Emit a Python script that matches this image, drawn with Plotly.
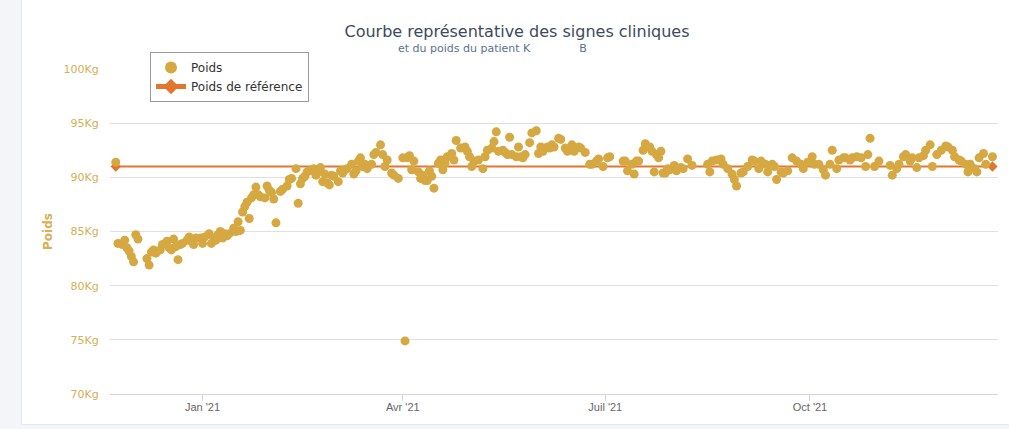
import plotly.graph_objects as go
import pandas as pd

# --- Data ---
dates = [
    "2020-11-23", "2020-11-24", "2020-11-26", "2020-11-27", "2020-11-28", "2020-11-29", "2020-11-30",
    "2020-12-01", "2020-12-02", "2020-12-03", "2020-12-07", "2020-12-08", "2020-12-09", "2020-12-10",
    "2020-12-11", "2020-12-13", "2020-12-14", "2020-12-16", "2020-12-17", "2020-12-18", "2020-12-19",
    "2020-12-20", "2020-12-21", "2020-12-22", "2020-12-23", "2020-12-25", "2020-12-26", "2020-12-27",
    "2020-12-28", "2020-12-29", "2020-12-31", "2021-01-01", "2021-01-02", "2021-01-04", "2021-01-05",
    "2021-01-06", "2021-01-07", "2021-01-08", "2021-01-09", "2021-01-10", "2021-01-11", "2021-01-12",
    "2021-01-13", "2021-01-15", "2021-01-16", "2021-01-17", "2021-01-18", "2021-01-19", "2021-01-20",
    "2021-01-21", "2021-01-22", "2021-01-23", "2021-01-24", "2021-01-25", "2021-01-26", "2021-01-27",
    "2021-01-29", "2021-01-30", "2021-01-31", "2021-02-01", "2021-02-02", "2021-02-03", "2021-02-05",
    "2021-02-06", "2021-02-08", "2021-02-09", "2021-02-10", "2021-02-12", "2021-02-13", "2021-02-14",
    "2021-02-15", "2021-02-16", "2021-02-17", "2021-02-18", "2021-02-20", "2021-02-21", "2021-02-22",
    "2021-02-23", "2021-02-24", "2021-02-25", "2021-02-26", "2021-02-27", "2021-02-28", "2021-03-01",
    "2021-03-03", "2021-03-04", "2021-03-05", "2021-03-06", "2021-03-07", "2021-03-09", "2021-03-10",
    "2021-03-11", "2021-03-12", "2021-03-13", "2021-03-14", "2021-03-15", "2021-03-16", "2021-03-18",
    "2021-03-19", "2021-03-20", "2021-03-22", "2021-03-23", "2021-03-24", "2021-03-25", "2021-03-27",
    "2021-03-28", "2021-03-30", "2021-04-01", "2021-04-02", "2021-04-03", "2021-04-04", "2021-04-05",
    "2021-04-06", "2021-04-08", "2021-04-09", "2021-04-10", "2021-04-11", "2021-04-12", "2021-04-13",
    "2021-04-14", "2021-04-15", "2021-04-17", "2021-04-18", "2021-04-19", "2021-04-20", "2021-04-21",
    "2021-04-23", "2021-04-24", "2021-04-25", "2021-04-27", "2021-04-29", "2021-04-30", "2021-05-01",
    "2021-05-02", "2021-05-03", "2021-05-05", "2021-05-07", "2021-05-08", "2021-05-09", "2021-05-11",
    "2021-05-12", "2021-05-13", "2021-05-14", "2021-05-16", "2021-05-17", "2021-05-18", "2021-05-19",
    "2021-05-20", "2021-05-22", "2021-05-23", "2021-05-24", "2021-05-25", "2021-05-26", "2021-05-28",
    "2021-05-29", "2021-05-31", "2021-06-01", "2021-06-02", "2021-06-03", "2021-06-05", "2021-06-06",
    "2021-06-07", "2021-06-08", "2021-06-10", "2021-06-11", "2021-06-13", "2021-06-14", "2021-06-16",
    "2021-06-17", "2021-06-19", "2021-06-20", "2021-06-22", "2021-06-24", "2021-06-25", "2021-06-27",
    "2021-06-28", "2021-06-30", "2021-07-02", "2021-07-03", "2021-07-09", "2021-07-10", "2021-07-11",
    "2021-07-13", "2021-07-14", "2021-07-15", "2021-07-16", "2021-07-18", "2021-07-19", "2021-07-21",
    "2021-07-22", "2021-07-23", "2021-07-24", "2021-07-25", "2021-07-26", "2021-07-27", "2021-07-28",
    "2021-07-29", "2021-07-30", "2021-08-01", "2021-08-02", "2021-08-04", "2021-08-05", "2021-08-07",
    "2021-08-09", "2021-08-16", "2021-08-17", "2021-08-18", "2021-08-20", "2021-08-22", "2021-08-23",
    "2021-08-25", "2021-08-27", "2021-08-28", "2021-08-29", "2021-08-31", "2021-09-01", "2021-09-03",
    "2021-09-05", "2021-09-06", "2021-09-08", "2021-09-09", "2021-09-11", "2021-09-12", "2021-09-14",
    "2021-09-15", "2021-09-16", "2021-09-18", "2021-09-19", "2021-09-21", "2021-09-23", "2021-09-25",
    "2021-09-27", "2021-09-28", "2021-09-30", "2021-10-02", "2021-10-03", "2021-10-05", "2021-10-07",
    "2021-10-08", "2021-10-10", "2021-10-11", "2021-10-13", "2021-10-14", "2021-10-16", "2021-10-17",
    "2021-10-19", "2021-10-20", "2021-10-22", "2021-10-24", "2021-10-26", "2021-10-27", "2021-10-28",
    "2021-10-30", "2021-11-01", "2021-11-06", "2021-11-07", "2021-11-09", "2021-11-10", "2021-11-12",
    "2021-11-13", "2021-11-15", "2021-11-16", "2021-11-18", "2021-11-19", "2021-11-21", "2021-11-22",
    "2021-11-24", "2021-11-25", "2021-11-27", "2021-11-29", "2021-12-01", "2021-12-02", "2021-12-04",
    "2021-12-05", "2021-12-07", "2021-12-08", "2021-12-10", "2021-12-11", "2021-12-12", "2021-12-14",
    "2021-12-15", "2021-12-16", "2021-12-18", "2021-12-19", "2021-12-22",
]

poids = [
    91.4, 83.9, 83.8, 84.2, 83.5, 83.2, 82.7,
    82.2, 84.7, 84.3, 82.5, 81.9, 83.1, 83.3,
    83.0, 83.3, 83.8, 84.1, 83.5, 83.3, 84.3,
    83.6, 82.4, 83.8, 83.9, 84.2, 84.5, 84.1,
    83.8, 84.4, 84.4, 83.9, 84.5, 84.8, 83.9,
    84.4, 84.2, 84.7, 85.0, 84.4, 84.8, 84.6,
    84.8, 85.3, 85.0, 85.9, 85.1, 86.8, 87.3,
    87.7, 86.2, 88.1, 88.4, 89.1, 88.4, 88.2,
    88.1, 89.2, 88.8, 88.6, 88.0, 85.8, 88.7,
    88.9, 89.2, 89.8, 89.9, 90.8, 87.6, 89.4,
    89.9, 90.1, 90.5, 90.6, 90.8, 90.2, 90.5,
    90.9, 89.6, 90.3, 89.5, 89.3, 90.2, 90.1,
    89.6, 90.6, 90.4, 90.7, 90.8, 91.2, 90.3,
    90.6, 91.5, 91.8, 91.0, 91.2, 90.8, 91.2,
    92.1, 92.3, 93.0, 92.1, 91.0, 91.6, 90.4,
    90.2, 89.9, 91.8, 74.9, 91.8, 92.0, 90.7,
    91.5, 90.5, 89.9, 90.2, 89.7, 89.7, 90.6,
    90.1, 89.0, 91.3, 91.6, 90.7, 91.3, 91.9,
    92.2, 91.6, 93.4, 92.7, 92.8, 92.4, 91.9,
    91.0, 91.5, 91.6, 90.8, 91.9, 92.5, 92.7,
    93.3, 94.2, 92.4, 92.5, 92.3, 92.1, 93.7,
    92.1, 91.9, 92.8, 91.9, 91.8, 92.1, 93.2,
    94.1, 94.3, 92.2, 92.8, 92.4, 92.8, 92.7,
    93.0, 92.8, 93.6, 93.5, 92.7, 92.4, 93.0,
    92.4, 92.8, 92.7, 92.3, 91.2, 91.2, 91.5,
    91.7, 91.0, 91.8, 91.9, 91.5, 91.5, 90.6,
    91.2, 90.3, 91.5, 91.5, 92.5, 93.1, 92.8,
    92.4, 90.5, 92.1, 91.8, 92.4, 90.4, 90.4,
    90.8, 90.7, 91.1, 90.6, 90.9, 90.8, 91.7,
    91.1, 91.2, 90.5, 91.5, 91.6, 91.7, 91.2,
    90.8, 90.3, 89.8, 89.2, 90.4, 90.5, 91.0,
    91.6, 91.5, 90.8, 91.5, 91.2, 90.5, 91.2,
    91.0, 89.8, 90.5, 90.4, 90.6, 91.8, 91.5,
    91.2, 90.8, 91.4, 91.9, 91.2, 91.2, 90.7,
    90.2, 91.2, 92.5, 90.8, 91.6, 91.8, 91.8,
    91.6, 91.8, 91.9, 91.8, 91.0, 92.1, 93.6,
    91.0, 91.5, 91.1, 90.2, 90.8, 91.2, 91.9,
    92.1, 91.5, 91.8, 90.9, 91.8, 92.0, 92.5,
    93.0, 91.0, 92.1, 92.5, 92.9, 92.8, 92.5,
    91.9, 91.6, 91.5, 91.2, 90.5, 91.2, 90.8,
    90.5, 91.8, 92.2, 91.2, 91.9,
]

ref_dates = ["2020-11-23", "2021-12-22"]
ref_poids = [91, 91]

y_ticks = [70, 75, 80, 85, 90, 95, 100]
y_labels = [f"{v}Kg" for v in y_ticks]
x_ticks = ["2021-01-01", "2021-04-01", "2021-07-01", "2021-10-01"]
x_labels = ["Jan '21", "Avr '21", "Juil '21", "Oct '21"]

GOLD = "#d6a841"
ORANGE = "#e2762f"
LABEL_GOLD = "#d9ae55"
PAGE_BG = "#f3f5f8"
PAGE_EDGE = "#e2e6eb"

W, H = 1009, 429
L, R, T, B = 110, 11, 69, 35
PW, PH = W - L - R, H - T - B


def px(xp):
    return (xp - L) / PW


def py(yp):
    return 1 - (yp - T) / PH


fig = go.Figure()

fig.add_trace(go.Scatter(
    x=pd.to_datetime(ref_dates), y=ref_poids, mode="lines+markers", name="Poids de référence",
    line=dict(color=ORANGE, width=2),
    marker=dict(symbol="diamond", size=8, color=ORANGE),
))
fig.add_trace(go.Scatter(
    x=pd.to_datetime(dates), y=poids, mode="markers", name="Poids",
    marker=dict(color=GOLD, size=9, line=dict(width=0)),
))

# page background strips (left and bottom) around the white chart panel
shapes = [
    dict(type="rect", xref="paper", yref="paper", x0=px(0), x1=px(21), y0=py(H), y1=py(0),
         fillcolor=PAGE_BG, line=dict(width=0), layer="below"),
    dict(type="rect", xref="paper", yref="paper", x0=px(0), x1=px(W), y0=py(H), y1=py(425),
         fillcolor=PAGE_BG, line=dict(width=0), layer="below"),
    dict(type="line", xref="paper", yref="paper", x0=px(21.5), x1=px(21.5), y0=py(424.5), y1=py(0),
         line=dict(color=PAGE_EDGE, width=1)),
    dict(type="line", xref="paper", yref="paper", x0=px(21.5), x1=px(W), y0=py(424.5), y1=py(424.5),
         line=dict(color=PAGE_EDGE, width=1)),
]

fig.update_layout(
    width=W, height=H,
    margin=dict(l=L, r=R, t=T, b=B, autoexpand=False),
    paper_bgcolor="white", plot_bgcolor="white",
    font=dict(family="DejaVu Sans, Arial, sans-serif"),
    title=dict(
        text="Courbe représentative des signes cliniques",
        x=517 / W, xanchor="center", y=1 - 31 / H, yanchor="middle",
        font=dict(size=16, color="#3d4a5c", family="DejaVu Sans, Arial, sans-serif"),
    ),
    showlegend=True,
    legend=dict(
        x=px(150), y=py(52), xanchor="left", yanchor="top",
        bgcolor="white", bordercolor="#999999", borderwidth=1,
        font=dict(size=12, color="#333333", family="DejaVu Sans, Arial, sans-serif"),
        traceorder="reversed", itemsizing="constant", itemwidth=30, tracegroupgap=2,
    ),
    xaxis=dict(
        type="date",
        range=["2020-11-20 10:00", "2021-12-24 12:00"],
        tickvals=pd.to_datetime(x_ticks), ticktext=x_labels,
        showgrid=False, zeroline=False,
        showline=True, linecolor="#ccd6eb", linewidth=1,
        ticks="outside", ticklen=6, tickcolor="#ccd6eb", tickwidth=1,
        ticklabelstandoff=-3,
        tickfont=dict(size=11, color="#666666", family="Liberation Sans Narrow, Liberation Sans, Arial"),
    ),
    yaxis=dict(
        range=[70, 100], tickvals=y_ticks, ticktext=y_labels,
        showgrid=True, gridcolor="#e0e0e0", gridwidth=1,
        zeroline=False, showline=False, ticks="outside", ticklen=8, tickcolor="white",
        tickfont=dict(size=11, color=LABEL_GOLD, family="DejaVu Sans, Arial, sans-serif"),
        title=dict(text="<b>Poids</b>", font=dict(size=12, color=LABEL_GOLD), standoff=8),
    ),
    shapes=shapes,
    annotations=[dict(
        text="et du poids du patient K" + "\u00a0" * 14 + "B",
        x=px(492), y=py(48), xref="paper", yref="paper",
        xanchor="center", yanchor="middle", showarrow=False,
        font=dict(size=11, color="#5b7190", family="DejaVu Sans, Arial, sans-serif"),
    )],
)

fig.write_html("out.html", config={"displayModeBar": False},
               post_script="document.body.style.margin='0';")
